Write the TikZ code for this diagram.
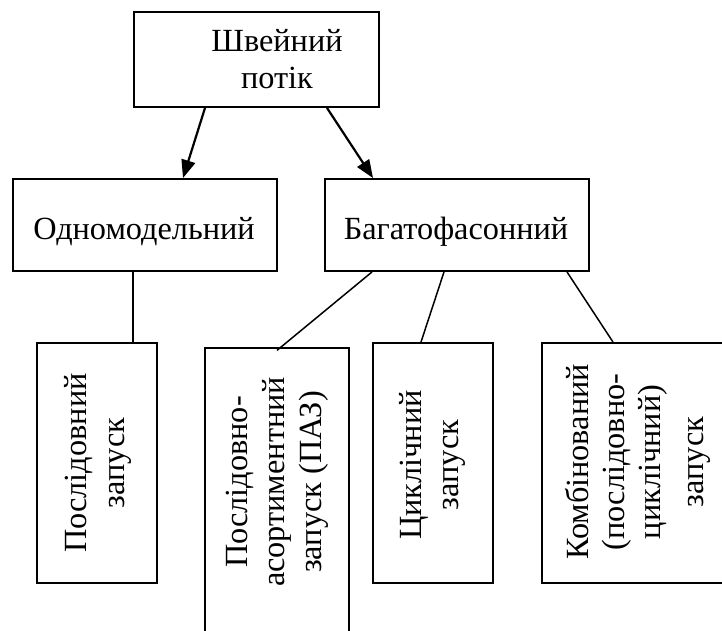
\documentclass[tikz,border=0pt]{standalone}
\usepackage{fontspec}
\setmainfont{Liberation Serif}
\usetikzlibrary{arrows.meta}
\begin{document}
\begin{tikzpicture}[x=1pt,y=-1pt,
  box/.style={draw, line width=1.9pt, inner sep=0pt},
  txt/.style={inner sep=0pt, font=\fontsize{32.3}{37}\selectfont},
  vtxt/.style={txt, rotate=90, anchor=base},
  htxt/.style={txt, anchor=base},
  conn/.style={line width=1.5pt},
  arr/.style={line width=2.2pt, -{Triangle[length=18pt,width=14pt]}}]
\useasboundingbox (0,0) rectangle (722,631);
\clip (0,0) rectangle (722,631);
% boxes
\node[box, minimum width=245pt, minimum height=95pt] (top) at (256.5,59.5) {};
\node[box, minimum width=264pt, minimum height=92pt] (odno) at (145,225) {};
\node[box, minimum width=264pt, minimum height=92pt] (baga) at (457,225) {};
\node[box, minimum width=120pt, minimum height=240pt] (p1) at (97,463) {};
\node[box, line width=1.3pt, minimum width=144pt, minimum height=312pt] (paz) at (277,504) {};
\node[box, minimum width=120pt, minimum height=240pt] (cyk) at (433,463) {};
\node[box, minimum width=198pt, minimum height=240pt] (komb) at (641,463) {};
% texts
\node[htxt] (t1) at (277,52) {Швейний};
\node[htxt] (t2) at (277,89) {потік};
\node[htxt] (t3) at (144,239) {Одномодельний};
\node[htxt] (t4) at (456,239) {Багатофасонний};
\node[vtxt] (t5) at (86,463) {Послідовний};
\node[vtxt] (t6) at (124,463) {запуск};
\node[vtxt] (t7) at (247,482) {Послідовно-};
\node[vtxt] (t8) at (284,482) {асортиментний};
\node[vtxt] (t9) at (321,482) {запуск (ПАЗ)};
\node[vtxt] (t10) at (421,465) {Циклічний};
\node[vtxt] (t11) at (458,465) {запуск};
\node[vtxt] (t12) at (588,462) {Комбінований};
\node[vtxt] (t13) at (624,462) {(послідовно-};
\node[vtxt] (t14) at (660,462) {циклічний)};
\node[vtxt] (t15) at (703,462) {запуск};
% connectors
\draw[arr] ([xshift=-51.5pt]top.south) -- ([xshift=38pt]odno.north);
\draw[arr] ([xshift=70.5pt]top.south) -- ([xshift=-84pt]baga.north);
\draw[conn] ([xshift=-12pt]odno.south) -- ([xshift=36pt]p1.north);
\draw[conn] ([xshift=-85pt]baga.south) -- ([yshift=-3pt]paz.north);
\draw[conn] ([xshift=-13pt]baga.south) -- ([xshift=-12pt]cyk.north);
\draw[conn] ([xshift=110pt]baga.south) -- ([xshift=-28pt]komb.north);
\end{tikzpicture}
\end{document}
